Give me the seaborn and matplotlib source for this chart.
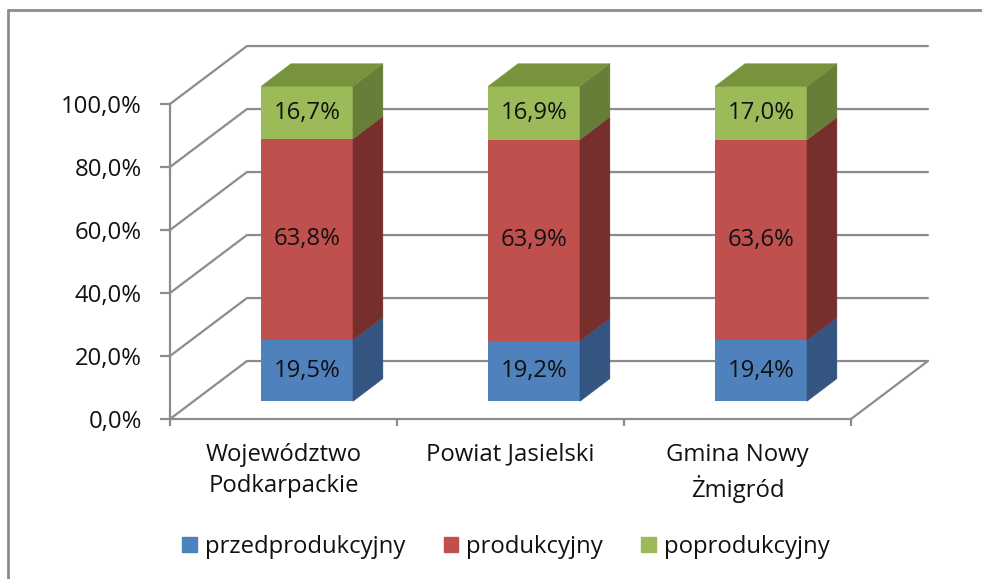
import numpy as np
import pandas as pd
import matplotlib
matplotlib.use("Agg")
import matplotlib.pyplot as plt
from matplotlib.ticker import FuncFormatter
import seaborn as sns

# Data
categories = ["Województwo\nPodkarpackie", "Powiat Jasielski", "Gmina Nowy\nŻmigród"]
series = ["przedprodukcyjny", "produkcyjny", "poprodukcyjny"]
przed = [19.5, 19.2, 19.4]
prod = [63.8, 63.9, 63.6]
popro = [16.7, 16.9, 17.0]
yticks = [0, 20, 40, 60, 80, 100]

# Excel 2007 style colours: front, side, top
front_cols = ["#4F81BD", "#C0504D", "#9BBB59"]
side_cols = ["#34557F", "#772F2D", "#667E38"]
top_cols = ["#4A6F9E", "#9A3F3C", "#77933C"]
grid_col = "#8C8C8C"
text_col = "#111111"

sns.set_style("white")
plt.rcParams['font.family'] = ['Open Sans', 'DejaVu Sans']
FS = 17.2

# 3D look: depth of the whole floor and placement of bars inside it
DX, DY = 0.339, 18.4          # full depth (category units, percent units)
FDX, FDY = 0.1035, 5.6        # offset of bar front face
BDX, BDY = DX - 2 * FDX, DY - 2 * FDY  # bar depth
BW = 0.405                    # bar width

fig = plt.figure(figsize=(9.82, 5.79), dpi=100)
ax = fig.add_axes([170 / 982, (579 - 419) / 579, 681 / 982, 315 / 579])

df = pd.DataFrame({"cat": categories, "przed": przed, "prod": prod, "popro": popro})
df["pos"] = np.arange(len(df)) + FDX
df["c1"] = df["przed"]
df["c2"] = df["przed"] + df["prod"]
df["c3"] = df["c2"] + df["popro"]

# back wall gridlines + left wall diagonals
for v in yticks:
    ax.plot([-0.5, -0.5 + DX, 2.5 + DX], [v, v + DY, v + DY],
            color=grid_col, lw=1.6, clip_on=False, zorder=1)
ax.plot([2.5, 2.5 + DX], [0, DY], color=grid_col, lw=1.6, clip_on=False, zorder=1)

# front faces of stacked bars (tallest first)
for col, c in zip(["c3", "c2", "c1"], front_cols[::-1]):
    sns.barplot(data=df, x="pos", y=col, native_scale=True, width=BW, color=c,
                saturation=1, errorbar=None, bottom=FDY, linewidth=0,
                clip_on=False, zorder=3, ax=ax)

# side faces and top face
for i, row in df.iterrows():
    xl = row["pos"] - BW / 2
    xr = row["pos"] + BW / 2
    lows = [0, row["c1"], row["c2"]]
    highs = [row["c1"], row["c2"], row["c3"]]
    for k in range(3):
        y0, y1 = lows[k] + FDY, highs[k] + FDY
        ax.fill([xr, xr, xr + BDX, xr + BDX], [y0, y1, y1 + BDY, y0 + BDY],
                color=side_cols[k], lw=0.3, ec=side_cols[k], clip_on=False, zorder=3)
        txt = f"{[row['przed'], row['prod'], row['popro']][k]:.1f}%".replace(".", ",")
        ax.text(row["pos"], (y0 + y1) / 2, txt, ha="center", va="center",
                fontsize=FS, color=text_col, zorder=5)
    yt = row["c3"] + FDY
    ax.fill([xl, xr, xr + BDX, xl + BDX], [yt, yt, yt + BDY, yt + BDY],
            color=top_cols[2], lw=0.3, ec=top_cols[2], clip_on=False, zorder=3)

ax.set_xlim(-0.5, 2.5)
ax.set_ylim(0, 100)
ax.set_xlabel("")
ax.set_ylabel("")

for s in ["top", "right"]:
    ax.spines[s].set_visible(False)
for s in ["left", "bottom"]:
    ax.spines[s].set_color(grid_col)
    ax.spines[s].set_linewidth(1.6)

ax.set_yticks(yticks)
ax.yaxis.set_major_formatter(FuncFormatter(lambda v, p: f"{v:.1f}%".replace(".", ",")))
ax.tick_params(axis="y", direction="out", length=7.2, width=1.6, color=grid_col,
               pad=13, labelsize=FS, labelcolor=text_col, left=True)

ax.set_xticks([-0.5, 0.5, 1.5, 2.5])
ax.set_xticklabels([])
ax.set_xticks([0, 1, 2], minor=True)
ax.set_xticklabels(categories, minor=True, fontsize=FS, color=text_col, linespacing=1.4)
ax.tick_params(axis="x", which="major", direction="out", length=5, width=1.6,
               color=grid_col, bottom=True)
ax.tick_params(axis="x", which="minor", length=0, pad=17)

# legend
handles = [plt.Rectangle((0, 0), 1, 1, color=c) for c in front_cols]
fig.legend(handles, series, loc="center", bbox_to_anchor=(506 / 982, 1 - 547 / 579),
           ncol=3, frameon=False, fontsize=FS, handlelength=0.6, handleheight=0.6,
           handletextpad=0.35, columnspacing=1.6, labelcolor=text_col)

# outer chart frame (only top and left edges are visible in the crop)
fig.add_artist(plt.Line2D([8 / 982, 8 / 982], [0, 1 - 10 / 579], transform=fig.transFigure,
                          color=grid_col, lw=2))
fig.add_artist(plt.Line2D([8 / 982, 1], [1 - 10 / 579, 1 - 10 / 579], transform=fig.transFigure,
                          color=grid_col, lw=2))

fig.savefig("out.png", dpi=100)
